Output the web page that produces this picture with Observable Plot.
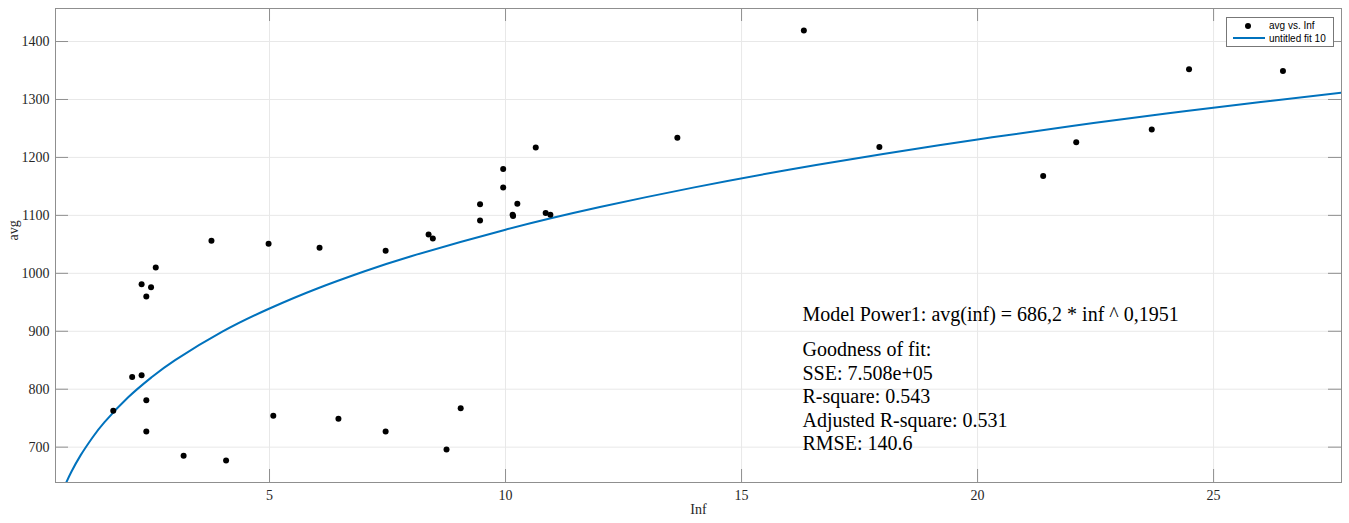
<!DOCTYPE html>
<html><head><meta charset="utf-8">
<script src="https://cdn.jsdelivr.net/npm/d3@7"></script>
<script src="https://cdn.jsdelivr.net/npm/@observablehq/plot@0.6"></script>
<style>
body{margin:0;background:#fff;}
#wrap{position:relative;width:1349px;height:523px;overflow:hidden;}
.legend{position:absolute;left:1226px;top:17px;width:106px;height:28px;border:1px solid #777;background:#fff;font-family:"Liberation Sans",Arial,sans-serif;font-size:10px;color:#000;}
.legend .dot{position:absolute;left:18px;width:6px;height:6px;border-radius:50%;background:#000;}
.legend .ln{position:absolute;left:6px;width:32px;height:0;border-top:2px solid #0072BD;}
.legend .lab{position:absolute;left:42px;white-space:nowrap;}
</style></head><body><div id="wrap"></div>
<script>
// scatter data: avg vs. Inf
const infValues = [1.69, 2.09, 2.29, 2.29, 2.39, 2.39, 2.39, 2.49, 2.59, 3.18, 3.77, 4.08, 4.98, 5.08, 6.06, 6.46, 7.46, 7.46, 8.37, 8.46, 8.75, 9.05, 9.46, 9.46, 9.95, 9.95, 10.15, 10.16, 10.25, 10.64, 10.85, 10.95, 13.64, 16.32, 17.92, 21.39, 22.09, 23.69, 24.48, 26.47];
const avgValues = [763, 821, 824, 981, 960, 781, 727, 976, 1010, 685, 1056, 677, 1051, 754, 1044, 749, 1039, 727, 1067, 1060, 696, 767, 1119, 1091, 1180, 1148, 1101, 1099, 1120, 1217, 1104, 1101, 1234, 1419, 1218, 1168, 1226, 1248, 1352, 1349];
// fitted curve samples (untitled fit 10)
const fitInf = [0.69, 0.8, 1, 1.25, 1.5, 2, 2.5, 3, 4, 5, 6, 7, 8, 10, 12, 14, 16, 18, 20, 22, 24, 26, 27.71];
const fitAvg = [638.3, 657.0, 686.2, 716.7, 742.7, 785.6, 820.5, 850.2, 899.3, 939.3, 973.4, 1003.1, 1029.5, 1075.3, 1114.3, 1148.3, 1178.6, 1206.0, 1231.0, 1254.2, 1275.7, 1295.7, 1311.9];
const xTicks = [5, 10, 15, 20, 25];
const yTicks = [700, 800, 900, 1000, 1100, 1200, 1300, 1400];
const xDomain = [0.466, 27.71];
const yDomain = [639, 1457];
const xLabel = "Inf";
const yLabel = "avg";
const legendLabels = ["avg vs. Inf", "untitled fit 10"];
const modelText = "Model Power1: avg(inf) = 686,2 * inf ^ 0,1951";
const fitStats = ["Goodness of fit:", "SSE: 7.508e+05", "R-square: 0.543", "Adjusted R-square: 0.531", "RMSE: 140.6"];

const points = infValues.map((x, i) => ({x, y: avgValues[i]}));
const fit = fitInf.map((x, i) => ({x, y: fitAvg[i]}));

const W = 1349, H = 523, mL = 55, mR = 8, mT = 8, mB = 41;
const fw = W - mL - mR, fh = H - mT - mB, tk = 13;
const axisColor = "#8f8f8f";
const serif = "'Liberation Serif','Times New Roman',serif";
const fmt = d => String(d);

const chart = Plot.plot({
  width: W, height: H,
  marginLeft: mL, marginRight: mR, marginTop: mT, marginBottom: mB,
  style: {fontFamily: serif, fontSize: "14px", color: "#262626", background: "#fff"},
  x: {domain: xDomain},
  y: {domain: yDomain},
  marks: [
    Plot.gridX(xTicks, {stroke: "#e8e8e8", strokeOpacity: 1}),
    Plot.gridY(yTicks, {stroke: "#e8e8e8", strokeOpacity: 1}),
    Plot.ruleY(yTicks, {insetRight: fw - tk, stroke: axisColor}),
    Plot.ruleY(yTicks, {insetLeft: fw - tk, stroke: axisColor}),
    Plot.ruleX(xTicks, {insetTop: fh - tk, stroke: axisColor}),
    Plot.ruleX(xTicks, {insetBottom: fh - tk, stroke: axisColor}),
    Plot.axisX(xTicks, {anchor: "bottom", tickSize: 0, tickPadding: 8, tickFormat: fmt, label: null, fontSize: 14, fill: "#262626"}),
    Plot.axisY(yTicks, {anchor: "left", tickSize: 0, tickPadding: 6, tickFormat: fmt, label: null, fontSize: 14, fill: "#262626"}),
    Plot.line(fit, {x: "x", y: "y", stroke: "#0072BD", strokeWidth: 2, curve: "natural", clip: true}),
    Plot.dot(points, {x: "x", y: "y", r: 3, fill: "#000", stroke: null}),
    Plot.frame({stroke: axisColor}),
    Plot.text([xLabel], {frameAnchor: "bottom", dy: 31, fontSize: 14, fill: "#262626"}),
    Plot.text([yLabel], {frameAnchor: "left", rotate: -90, dx: -42, dy: -5, fontSize: 14, fill: "#262626"}),
    Plot.text([modelText], {frameAnchor: "top-left", textAnchor: "start", lineAnchor: "bottom", dx: 747, dy: 312, fontSize: 20, fill: "#000"}),
    Plot.text([fitStats.join("\n")], {frameAnchor: "top-left", textAnchor: "start", lineAnchor: "bottom", lineHeight: 1.17, dx: 747, dy: 441.5, fontSize: 20, fill: "#000"})
  ]
});
const wrap = document.getElementById("wrap");
wrap.appendChild(chart);

const leg = document.createElement("div");
leg.className = "legend";
leg.innerHTML =
  `<div class="dot" style="top:5px"></div><div class="lab" style="top:2px">${legendLabels[0]}</div>` +
  `<div class="ln" style="top:19px"></div><div class="lab" style="top:15px">${legendLabels[1]}</div>`;
wrap.appendChild(leg);
</script>
</body></html>
